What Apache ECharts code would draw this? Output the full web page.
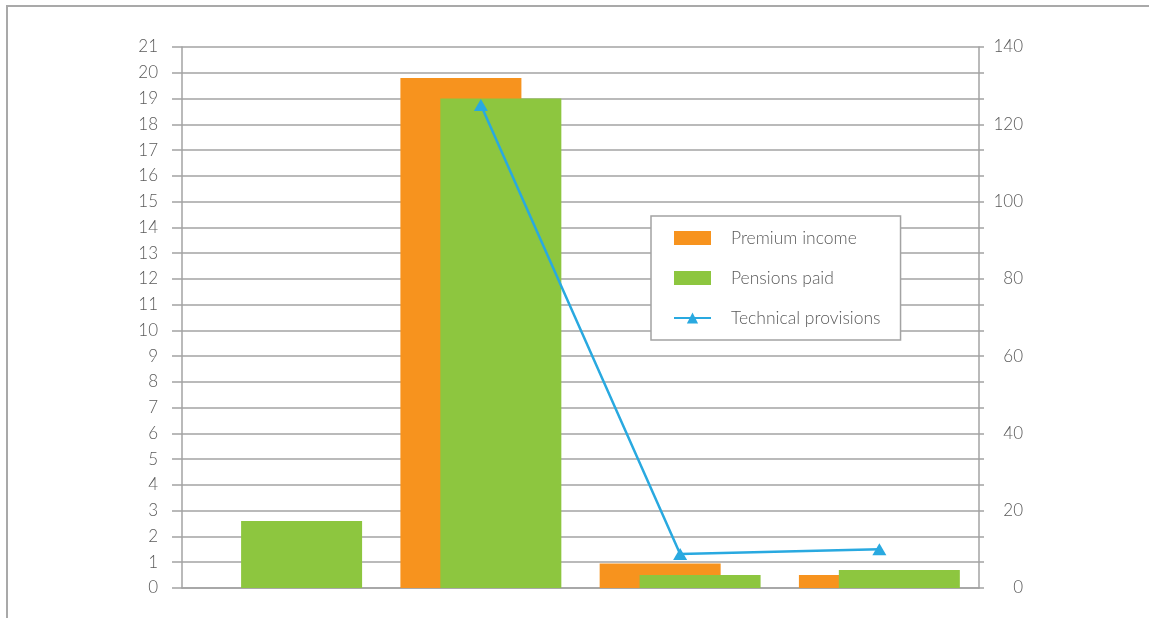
<!DOCTYPE html>
<html>
<head>
<meta charset="utf-8">
<script src="https://cdn.jsdelivr.net/npm/echarts@6/dist/echarts.min.js"></script>
<style>
  html, body { margin: 0; padding: 0; background: #fff; overflow: hidden; }
  .frame {
    position: absolute; left: 6px; top: 5px; width: 1200px; height: 700px;
    border: 2px solid #a9a9a9; box-sizing: border-box;
  }
  #chart { position: absolute; left: 0; top: 0; width: 1149px; height: 618px; }
</style>
</head>
<body>
<div class="frame"></div>
<div id="chart"></div>
<script>
// categories are not labelled in the picture
const categories = ['A', 'B', 'C', 'D'];
const premiumIncome = [0, 19.8, 0.95, 0.5];
const pensionsPaid = [2.6, 19.0, 0.5, 0.7];
const technicalProvisions = [null, 125, 8.8, 10];

const leftTicks = { min: 0, max: 21, interval: 1 };
const rightTicks = { min: 0, max: 140, interval: 20 };

const gray = '#a3a3a3';
const textColor = '#5a5a5a';
const font = 'Lato, "Open Sans", sans-serif';

const chart = echarts.init(document.getElementById('chart'));

const option = {
  backgroundColor: 'transparent',
  animation: false,
  grid: { left: 182, right: 170, top: 47, bottom: 30 },
  legend: {
    orient: 'vertical',
    left: 651,
    top: 216,
    padding: [12, 20, 12, 22],
    itemWidth: 37,
    itemHeight: 14,
    itemGap: 20,
    backgroundColor: '#fff',
    borderColor: gray,
    borderWidth: 1.5,
    textStyle: {
      color: textColor, fontSize: 17.5, fontFamily: font, fontWeight: 300,
      lineHeight: 20, padding: [0, 0, 0, 15]
    },
    data: [
      { name: 'Premium income', icon: 'rect' },
      { name: 'Pensions paid', icon: 'rect' },
      { name: 'Technical provisions' }
    ]
  },
  xAxis: {
    type: 'category',
    data: categories,
    axisLine: { lineStyle: { color: gray, width: 1.5 } },
    axisTick: { show: false },
    axisLabel: { show: false }
  },
  yAxis: [
    {
      type: 'value',
      min: leftTicks.min, max: leftTicks.max, interval: leftTicks.interval,
      axisLine: { show: true, lineStyle: { color: gray, width: 1.5 } },
      axisTick: { show: true, length: 10, lineStyle: { color: gray, width: 1.5 } },
      splitLine: { lineStyle: { color: gray, width: 1.5 } },
      axisLabel: { color: textColor, fontSize: 17, fontFamily: font, fontWeight: 300, margin: 24 }
    },
    {
      type: 'value',
      position: 'right',
      min: rightTicks.min, max: rightTicks.max, interval: rightTicks.interval,
      axisLine: { show: true, lineStyle: { color: gray, width: 1.5 } },
      axisTick: { show: true, length: 5, lineStyle: { color: gray, width: 1.5 } },
      minorTick: { show: true, splitNumber: 3, length: 5, lineStyle: { color: gray, width: 1.5 } },
      splitLine: { show: false },
      axisLabel: { color: textColor, fontSize: 17, fontFamily: font, fontWeight: 300, margin: 44, align: 'right' }
    }
  ],
  series: [
    {
      name: 'Premium income',
      type: 'bar',
      data: premiumIncome,
      barWidth: 121,
      barGap: '-67%',
      itemStyle: { color: '#f7931e' }
    },
    {
      name: 'Pensions paid',
      type: 'bar',
      data: pensionsPaid,
      barWidth: 121,
      barGap: '-67%',
      itemStyle: { color: '#8dc63f' }
    },
    {
      name: 'Technical provisions',
      type: 'line',
      yAxisIndex: 1,
      data: technicalProvisions,
      symbol: 'triangle',
      symbolSize: [14, 12],
      lineStyle: { color: '#29a9e0', width: 2.5 },
      itemStyle: { color: '#29a9e0' },
      z: 5
    }
  ]
};

chart.setOption(option);
</script>
</body>
</html>
